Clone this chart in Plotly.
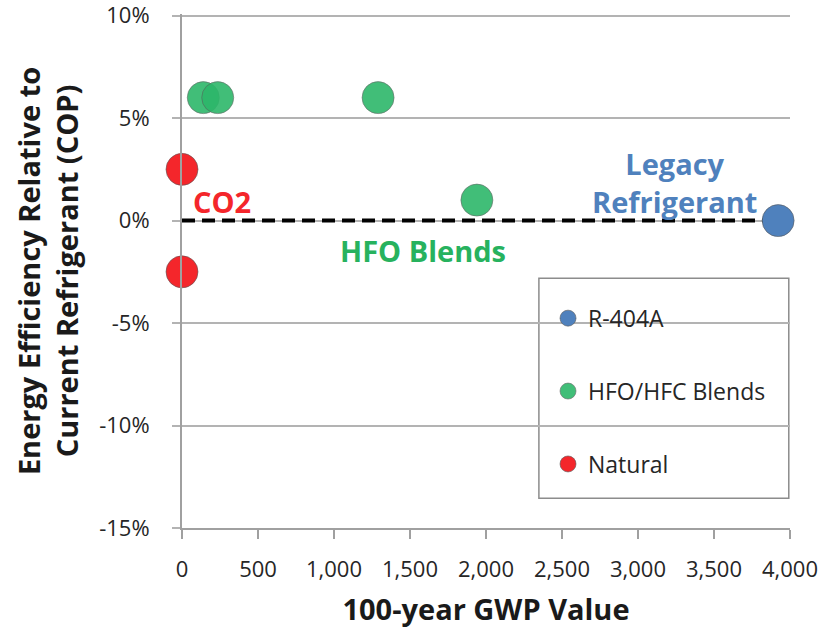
import plotly.graph_objects as go

# GWP (100-year) and efficiency change relative to the current refrigerant (%)
legacy_gwp = [3922]
legacy_eff = [0]

hfo_gwp = [140, 235, 1290, 1940]
hfo_eff = [6, 6, 6, 1]

natural_gwp = [0, 0]
natural_eff = [2.5, -2.5]

y_ticks = [10, 5, 0, -5, -10, -15]
y_tick_text = ["10%", "5%", "0%", "-5%", "-10%", "-15%"]
x_ticks = [0, 500, 1000, 1500, 2000, 2500, 3000, 3500, 4000]
x_tick_text = ["0", "500", "1,000", "1,500", "2,000", "2,500", "3,000", "3,500", "4,000"]

BLUE = "#4F81BD"
GREEN = "#2DB76A"
RED = "#F4262B"
FONT = "'Open Sans', Lato, sans-serif"
TEXT = "#262626"

fig = go.Figure()

# Baseline: parity with the legacy refrigerant
fig.add_shape(type="line", xref="x", yref="y", x0=0, x1=legacy_gwp[0], y0=0, y1=0,
              line=dict(color="black", width=4, dash="13px,7px"), layer="between")

marker_line = dict(color="rgba(90,90,90,0.6)", width=1)

fig.add_trace(go.Scatter(x=legacy_gwp, y=legacy_eff, mode="markers", name="R-404A",
                         marker=dict(size=32, color=BLUE, line=marker_line),
                         cliponaxis=False, legendgroup="a"))
fig.add_trace(go.Scatter(x=hfo_gwp, y=hfo_eff, mode="markers", name="HFO/HFC Blends",
                         marker=dict(size=32, color=GREEN, opacity=0.9, line=marker_line),
                         cliponaxis=False, legendgroup="b"))
fig.add_trace(go.Scatter(x=natural_gwp, y=natural_eff, mode="markers", name="Natural",
                         marker=dict(size=32, color=RED, line=marker_line),
                         cliponaxis=False, legendgroup="c"))

# Group labels
fig.add_annotation(x=265, y=0.95, xref="x", yref="y", text="<b>CO2</b>", showarrow=False,
                   font=dict(family=FONT, size=29, color=RED))
fig.add_annotation(x=1585, y=-1.45, xref="x", yref="y", text="<b>HFO Blends</b>", showarrow=False,
                   font=dict(family=FONT, size=29, color="#27B25E"))
fig.add_annotation(x=3242, y=1.85, xref="x", yref="y", text="<b>Legacy<br>Refrigerant</b>",
                   showarrow=False, align="center",
                   font=dict(family=FONT, size=29, color=BLUE))

# Legend frame
fig.add_shape(type="rect", xref="paper", yref="paper", x0=0.587, x1=0.998, y0=0.058, y1=0.486,
              line=dict(color="#8c8c8c", width=1.5), fillcolor="white", layer="between")

fig.update_layout(
    width=830, height=628,
    margin=dict(l=182, r=40, t=14, b=100),
    paper_bgcolor="white", plot_bgcolor="white",
    font=dict(family=FONT, size=22, color=TEXT),
    showlegend=True,
    legend=dict(x=0.602, y=0.45, xanchor="left", yanchor="top",
                bgcolor="rgba(0,0,0,0)", borderwidth=0,
                font=dict(family=FONT, size=23, color=TEXT),
                traceorder="grouped", tracegroupgap=40, itemsizing="trace", itemwidth=30),
    xaxis=dict(range=[0, 4000], tickvals=x_ticks, ticktext=x_tick_text, automargin=False,
               showgrid=False, zeroline=False, showline=True, linecolor="#a0a0a0", linewidth=2,
               ticks="outside", ticklen=9, tickcolor="#a0a0a0", tickwidth=2,
               ticklabelstandoff=12, ticklabeloverflow="allow",
               title=dict(text="<b>100-year GWP Value</b>", font=dict(size=29, color="#1a1a1a"), standoff=20),
               tickfont=dict(size=22)),
    yaxis=dict(range=[-15, 10.08], tickvals=y_ticks, ticktext=y_tick_text, automargin=False,
               showgrid=True, gridcolor="#b3b3b3", gridwidth=1.5, zeroline=False,
               showline=True, linecolor="#a0a0a0", linewidth=2,
               ticks="outside", ticklen=8, tickcolor="#b3b3b3", tickwidth=1.5,
               ticklabelstandoff=18, ticklabeloverflow="allow",
               title=dict(text="<b>Energy Efficiency Relative to<br>Current Refrigerant (COP)</b>",
                          font=dict(size=29, color="#1a1a1a"), standoff=12),
               tickfont=dict(size=22)),
)

fig.write_html("out.html")
